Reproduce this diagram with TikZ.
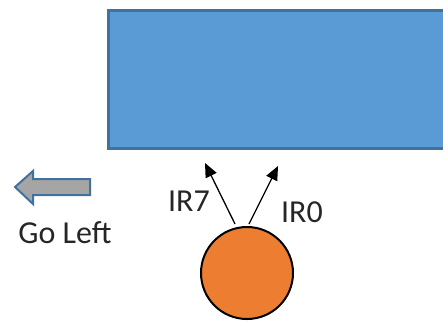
\documentclass[tikz,border=0pt]{standalone}
\usepackage{fontspec}
\setmainfont{Carlito}
\usetikzlibrary{arrows.meta}
\definecolor{boxblue}{HTML}{5B9BD5}
\definecolor{boxedge}{HTML}{41719C}
\definecolor{robot}{HTML}{ED7D31}
\definecolor{arrgray}{HTML}{A5A5A5}
\tikzset{
  lbl/.style={font=\fontsize{32}{36}\selectfont, inner sep=0pt, text=black!85},
  irray/.style={-{Triangle[length=14pt,width=12pt]}, line width=1.3pt}
}
\begin{document}
\begin{tikzpicture}[x=1pt,y=-1pt]
\useasboundingbox (0,0) rectangle (443,325);
\begin{scope}
\clip (0,0) rectangle (443,325);
\node[draw=boxedge, line width=2.5pt, fill=boxblue, minimum width=350pt, minimum height=138pt, anchor=north west, inner sep=0pt] (wall) at (107,9) {};
\end{scope}
\node[circle, draw=black, line width=2pt, fill=robot, minimum size=92pt, inner sep=0pt] (bot) at (247,273) {};
\coordinate (s7) at (235,224);
\coordinate (t7) at (205,163);
\coordinate (s0) at (249,224);
\coordinate (t0) at (278,166);
\draw[irray] (s7) -- (t7);
\draw[irray] (s0) -- (t0);
\node[lbl] (ir7) at (189,201) {IR7};
\node[lbl] (ir0) at (302,212) {IR0};
\draw[draw=boxedge, line width=2pt, fill=arrgray, line join=miter]
  (15,187) -- (33,171) -- (33,179) -- (90,179) -- (90,195) -- (33,195) -- (33,204) -- cycle;
\node[lbl] (golabel) at (65,233) {Go Left};
\end{tikzpicture}
\end{document}
